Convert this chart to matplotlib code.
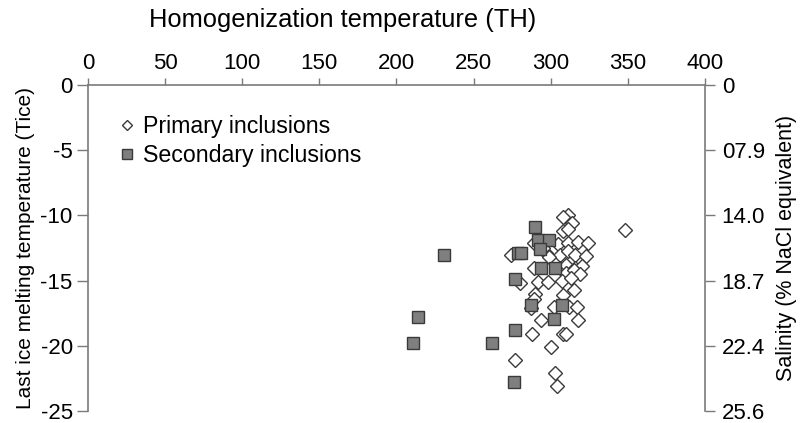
import matplotlib
matplotlib.use("Agg")
import matplotlib.pyplot as plt

plt.rcParams['font.family'] = ['Liberation Sans', 'DejaVu Sans']
plt.rcParams['axes.unicode_minus'] = False

# primary fluid inclusions: homogenization temp (C) and last ice melting temp (C)
primary_th = [311, 308, 314, 348, 308, 311, 289, 305, 311, 318, 324, 306, 311, 316, 323,
              274, 297, 299, 295, 289, 306, 310, 316, 320, 310, 315, 319, 280, 292, 298,
              307, 313, 315, 290, 308, 289, 287, 302, 312, 317, 294, 318, 288, 308, 310,
              300, 277, 303, 304]
primary_tice = [-10.0, -10.1, -10.6, -11.1, -11.2, -11.0, -12.1, -12.2, -12.1, -12.0, -12.1,
                -13.0, -12.7, -13.0, -13.1, -13.0, -12.9, -13.2, -12.5, -14.0, -14.0, -13.8,
                -14.0, -13.9, -14.4, -14.2, -14.5, -15.2, -15.1, -15.1, -15.0, -14.8, -15.7,
                -16.0, -16.1, -16.4, -17.1, -17.0, -17.0, -17.0, -18.0, -18.0, -19.1, -19.1,
                -19.1, -20.1, -21.1, -22.1, -23.1]

# secondary inclusions
secondary_th = [290, 292, 299, 293, 279, 281, 294, 303, 277, 287, 307, 302, 277, 262, 276,
                231, 214, 211]
secondary_tice = [-10.9, -11.9, -11.9, -12.6, -12.9, -12.9, -14.0, -14.0, -14.9, -16.85,
                  -16.85, -17.9, -18.8, -19.8, -22.8, -13.0, -17.8, -19.8]

# salinity labels for the right axis
tice_ticks = [0, -5, -10, -15, -20, -25]
salinity_labels = ['0', '07.9', '14.0', '18.7', '22.4', '25.6']
th_ticks = [0, 50, 100, 150, 200, 250, 300, 350, 400]

fig = plt.figure(figsize=(8.09, 4.23), dpi=100)
ax = fig.add_axes([0.1088, 0.028, 0.7626, 0.771])

edge = '#3a3a3a'
axcol = '#7a7a7a'
fs = 16

ax.plot(primary_th, primary_tice, linestyle='none', marker='D', markersize=6.9,
        markerfacecolor='white', markeredgecolor=edge, markeredgewidth=1.0,
        label='Primary inclusions')
ax.plot(secondary_th, secondary_tice, linestyle='none', marker='s', markersize=8.5,
        markerfacecolor='#7f7f7f', markeredgecolor=edge, markeredgewidth=1.0,
        label='Secondary inclusions')

ax.set_xlim(0, 400)
ax.set_ylim(-25, 0)
ax.xaxis.tick_top()
ax.xaxis.set_label_position('top')
ax.set_xticks(th_ticks)
ax.set_yticks(tice_ticks)
ax.tick_params(axis='both', colors=axcol, labelcolor='black', labelsize=fs,
               width=1, direction='out')
ax.tick_params(axis='x', length=5, pad=3)
ax.tick_params(axis='y', length=8, pad=3)
xl = ax.set_xlabel('Homogenization temperature (TH)', fontsize=18.4)
xl.set_verticalalignment('center')
ax.xaxis.set_label_coords(0.412, 1.199)
ax.set_ylabel('Last ice melting temperature (Tice)', fontsize=15, labelpad=4)

for s in ['bottom', 'right']:
    ax.spines[s].set_visible(False)
for s in ['top', 'left']:
    ax.spines[s].set_color(axcol)
    ax.spines[s].set_linewidth(1.2)

ax2 = ax.twinx()
ax2.set_ylim(-25, 0)
ax2.set_yticks(tice_ticks)
ax2.set_yticklabels(salinity_labels)
ax2.tick_params(axis='y', colors=axcol, labelcolor='black', labelsize=fs,
                length=7.5, width=1, pad=4.5)
ax2.set_ylabel('Salinity (% NaCl equivalent)', fontsize=15.5, labelpad=8)
for s in ['bottom', 'top', 'left']:
    ax2.spines[s].set_visible(False)
ax2.spines['right'].set_color(axcol)
ax2.spines['right'].set_linewidth(1.2)

ax.legend(loc='upper left', bbox_to_anchor=(0.025, 0.935), frameon=False, fontsize=16.7,
          handletextpad=0.1, handlelength=1.2, labelspacing=0.25, markerscale=0.8,
          borderaxespad=0)

fig.savefig('out.png', dpi=100)
